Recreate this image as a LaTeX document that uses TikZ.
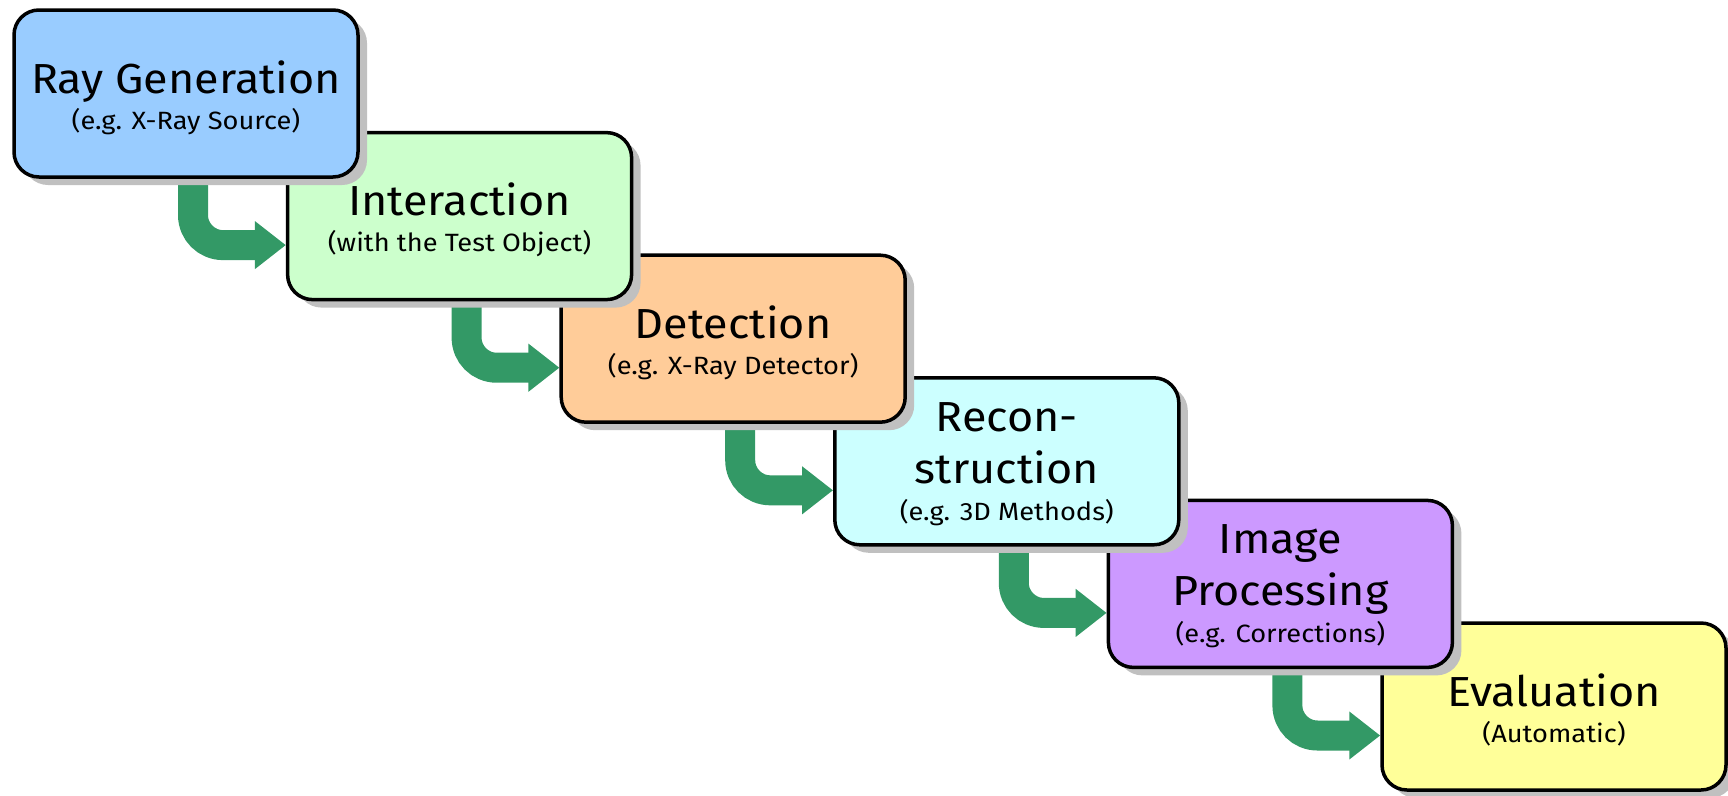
\documentclass[tikz,border=0pt]{standalone}
\usepackage{fontspec}
\setmainfont{Fira Sans}
\newfontfamily\stagetitlefont[FakeStretch=1.07]{Fira Sans}
\newfontfamily\stagesubfont[FakeStretch=1.09]{Fira Sans}
\usetikzlibrary{arrows.meta,shadows,backgrounds}
\definecolor{cA}{HTML}{99CCFF}
\definecolor{cB}{HTML}{CCFFCC}
\definecolor{cC}{HTML}{FFCC99}
\definecolor{cD}{HTML}{CCFFFF}
\definecolor{cE}{HTML}{CC99FF}
\definecolor{cF}{HTML}{FFFF99}
\definecolor{arrowgreen}{HTML}{339966}
\definecolor{shadowgray}{HTML}{C0C0C0}
\tikzset{
  stage/.style={draw=black, line width=3.5pt, rounded corners=25pt,
    minimum width=344pt, minimum height=167pt, inner sep=0pt,
    drop shadow={shadow xshift=9pt, shadow yshift=-8pt, fill=shadowgray, opacity=1}},
  flow/.style={draw=arrowgreen, line width=30pt, rounded corners=30pt,
    -{Triangle[length=31pt 0 0,width=46pt 0 0]}},
  title/.style={anchor=base, inner sep=0pt, font=\stagetitlefont\fontsize{42}{52}\selectfont},
  subtitle/.style={anchor=base, inner sep=0pt, font=\stagesubfont\fontsize{25}{30}\selectfont},
}
\begin{document}
\begin{tikzpicture}[x=1pt,y=-1pt]
\useasboundingbox (0,0) rectangle (1728,795);
\clip (0,0) rectangle (1728,795);
\node[stage, fill=cF] (b6) at (1554,706.5) {};
\node[stage, fill=cE] (b5) at (1280.4,583.9) {};
\node[stage, fill=cD] (b4) at (1006.8,461.3) {};
\node[stage, fill=cC] (b3) at (733.2,338.7) {};
\node[stage, fill=cB] (b2) at (459.6,216.1) {};
\node[stage, fill=cA] (b1) at (186,93.5) {};
% texts
\node[title] (t1) at ([yshift=-85pt]b1.north) {Ray Generation};
\node[subtitle] (s1) at ([yshift=-121pt]b1.north) {(e.g. X-Ray Source)};
\node[title] (t2) at ([yshift=-85pt]b2.north) {Interaction};
\node[subtitle] (s2) at ([yshift=-121pt]b2.north) {(with the Test Object)};
\node[title] (t3) at ([yshift=-85pt]b3.north) {Detection};
\node[subtitle] (s3) at ([yshift=-121pt]b3.north) {(e.g. X-Ray Detector)};
\node[title] (t4a) at ([yshift=-55pt]b4.north) {Recon-};
\node[title] (t4b) at ([yshift=-107pt]b4.north) {struction};
\node[subtitle] (s4) at ([yshift=-144pt]b4.north) {(e.g. 3D Methods)};
\node[title] (t5a) at ([yshift=-55pt]b5.north) {Image};
\node[title] (t5b) at ([yshift=-107pt]b5.north) {Processing};
\node[subtitle] (s5) at ([yshift=-144pt]b5.north) {(e.g. Corrections)};
\node[title] (t6) at ([yshift=-85pt]b6.north) {Evaluation};
\node[subtitle] (s6) at ([yshift=-121pt]b6.north) {(Automatic)};
% arrows
\begin{scope}[on background layer]
\draw[flow] ([xshift=7pt]b1.south) |- ([yshift=-29pt]b2.west);
\draw[flow] ([xshift=7pt]b2.south) |- ([yshift=-29pt]b3.west);
\draw[flow] ([xshift=7pt]b3.south) |- ([yshift=-29pt]b4.west);
\draw[flow] ([xshift=7pt]b4.south) |- ([yshift=-29pt]b5.west);
\draw[flow] ([xshift=7pt]b5.south) |- ([yshift=-29pt]b6.west);
\end{scope}
\end{tikzpicture}
\end{document}
